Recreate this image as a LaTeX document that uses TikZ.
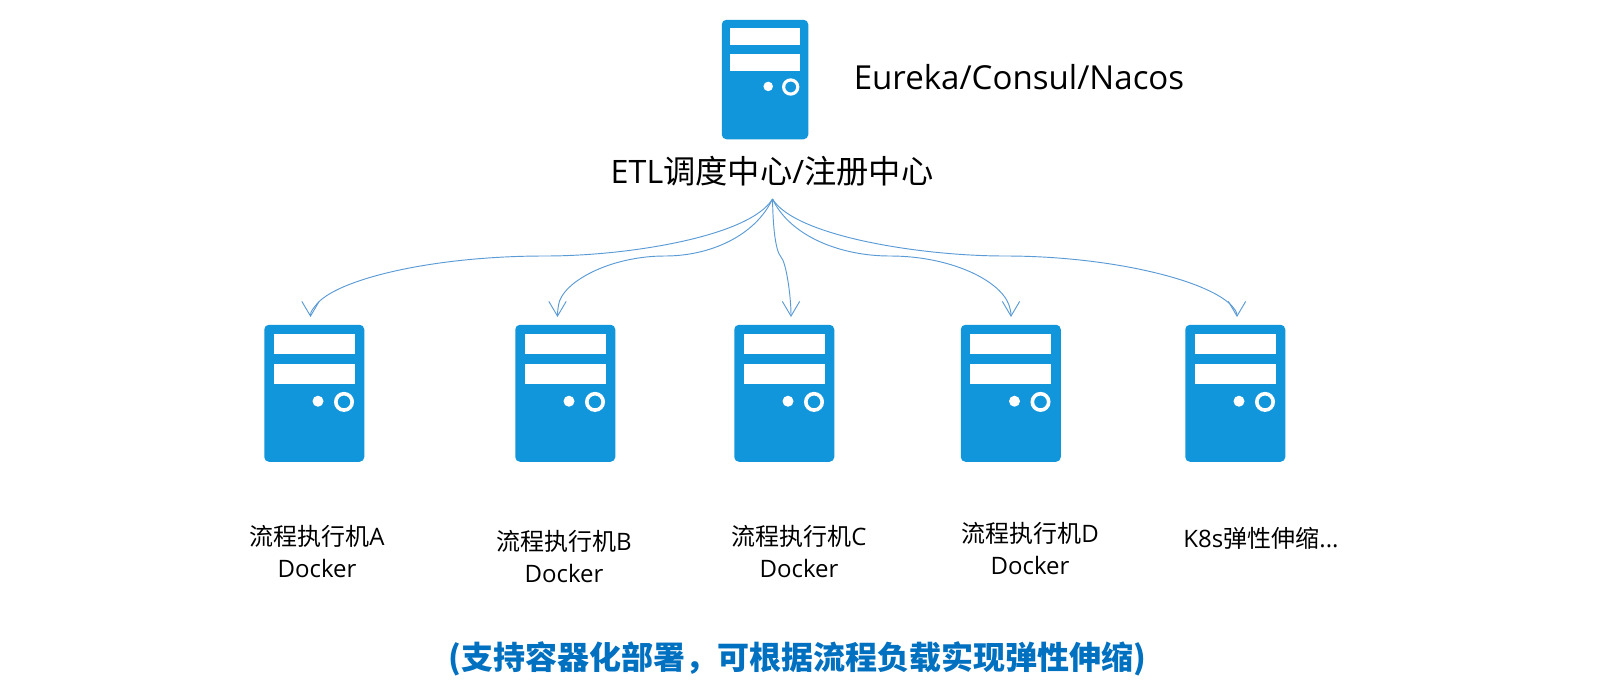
\documentclass[tikz,border=0pt]{standalone}
\usepackage{fontspec}
\setmainfont{Open Sans}
\newfontfamily\cjk{Noto Sans CJK SC}
\usetikzlibrary{arrows.meta}
\definecolor{srv}{HTML}{1296DB}
\definecolor{lnk}{HTML}{5B9BD5}
\definecolor{note}{HTML}{0070C0}
\newcommand{\Z}[1]{{\cjk #1}}
\tikzset{
  serverbox/.style={fill=srv,draw=none,rounded corners=3.5pt,inner sep=0pt},
  link/.style={draw=lnk,line width=0.7pt,-{Straight Barb[length=11pt,width=13pt,line width=0.7pt]}},
  lab/.style={align=center,inner sep=0pt,text=black,font=\fontsize{18}{24}\selectfont},
}
% #1 name, #2 left, #3 top, #4 width, #5 height
\newcommand{\server}[5]{%
  \node[serverbox,anchor=north west,minimum width=#4*0.75pt,minimum height=#5*0.75pt] (#1) at (#2,#3) {};
  \fill[white] (#2+#4*0.095,#3+#5*0.07) rectangle (#2+#4*0.905,#3+#5*0.215);
  \fill[white] (#2+#4*0.095,#3+#5*0.288) rectangle (#2+#4*0.905,#3+#5*0.433);
  \fill[white] (#2+#4*0.54,#3+#5*0.56) circle[radius=#4*0.055*0.75pt];
  \draw[white,line width=#4*0.036*0.75pt] (#2+#4*0.8,#3+#5*0.565) circle[radius=#4*0.082*0.75pt];
}
\begin{document}
\begin{tikzpicture}[x=0.75pt,y=-0.75pt]
\useasboundingbox[fill=white] (0,0) rectangle (1600,700);
\server{top}{721.5}{19.5}{86.5}{119.5}
\server{sa}{264}{324.5}{100}{137}
\server{sb}{515}{324.5}{100}{137}
\server{sc}{734}{324.5}{100}{137}
\server{sd}{960.5}{324.5}{100}{137}
\server{se}{1185}{324.5}{100}{137}

\node[lab,font=\fontsize{24.2}{30}\selectfont] (title) at (772,171) {ETL\Z{调度中心}/\Z{注册中心}};
\node[lab,font=\fontsize{24.8}{30}\selectfont] (reg) at (1019,77) {Eureka/Consul/Nacos};
\node[lab] (la) at (317,552) {\Z{流程执行机}A\\Docker};
\node[lab] (lb) at (564,557) {\Z{流程执行机}B\\Docker};
\node[lab] (lc) at (799,552) {\Z{流程执行机}C\\Docker};
\node[lab] (ld) at (1030,549) {\Z{流程执行机}D\\Docker};
\node[lab] (le) at (1261,538) {K8s\Z{弹性伸缩}...};
\node[inner sep=0pt,text=note,font=\cjk\bfseries\fontsize{24}{30}\selectfont] (note) at (797,659) {(支持容器化部署，可根据流程负载实现弹性伸缩)};

\coordinate (hub) at (772.5,199);
\coordinate (ea) at (310.5,317);
\coordinate (eb) at (557.5,317);
\coordinate (ec) at (791,317);
\coordinate (ed) at (1011,317);
\coordinate (ee) at (1237,317);
\draw[link] (hub) .. controls (750,236) and (630,256) .. (545,256) .. controls (430,256) and (335,280) .. (316,305) .. controls (313,309) and (310.5,311) .. (ea);
\draw[link] (hub) .. controls (755,236) and (710,256) .. (665,256) .. controls (610,256) and (562,282) .. (558.5,305) .. controls (558,309) and (557.5,311) .. (eb);
\draw[link] (hub) .. controls (773,225) and (775,250) .. (781,257) .. controls (786,262) and (791,295) .. (ec);
\draw[link] (hub) .. controls (790,236) and (840,256) .. (890,256) .. controls (950,256) and (1000,280) .. (1009,305) .. controls (1010,309) and (1011,311) .. (ed);
\draw[link] (hub) .. controls (795,236) and (920,256) .. (1005,256) .. controls (1110,256) and (1208,280) .. (1232,306) .. controls (1234,309) and (1237,311) .. (ee);
\end{tikzpicture}
\end{document}
